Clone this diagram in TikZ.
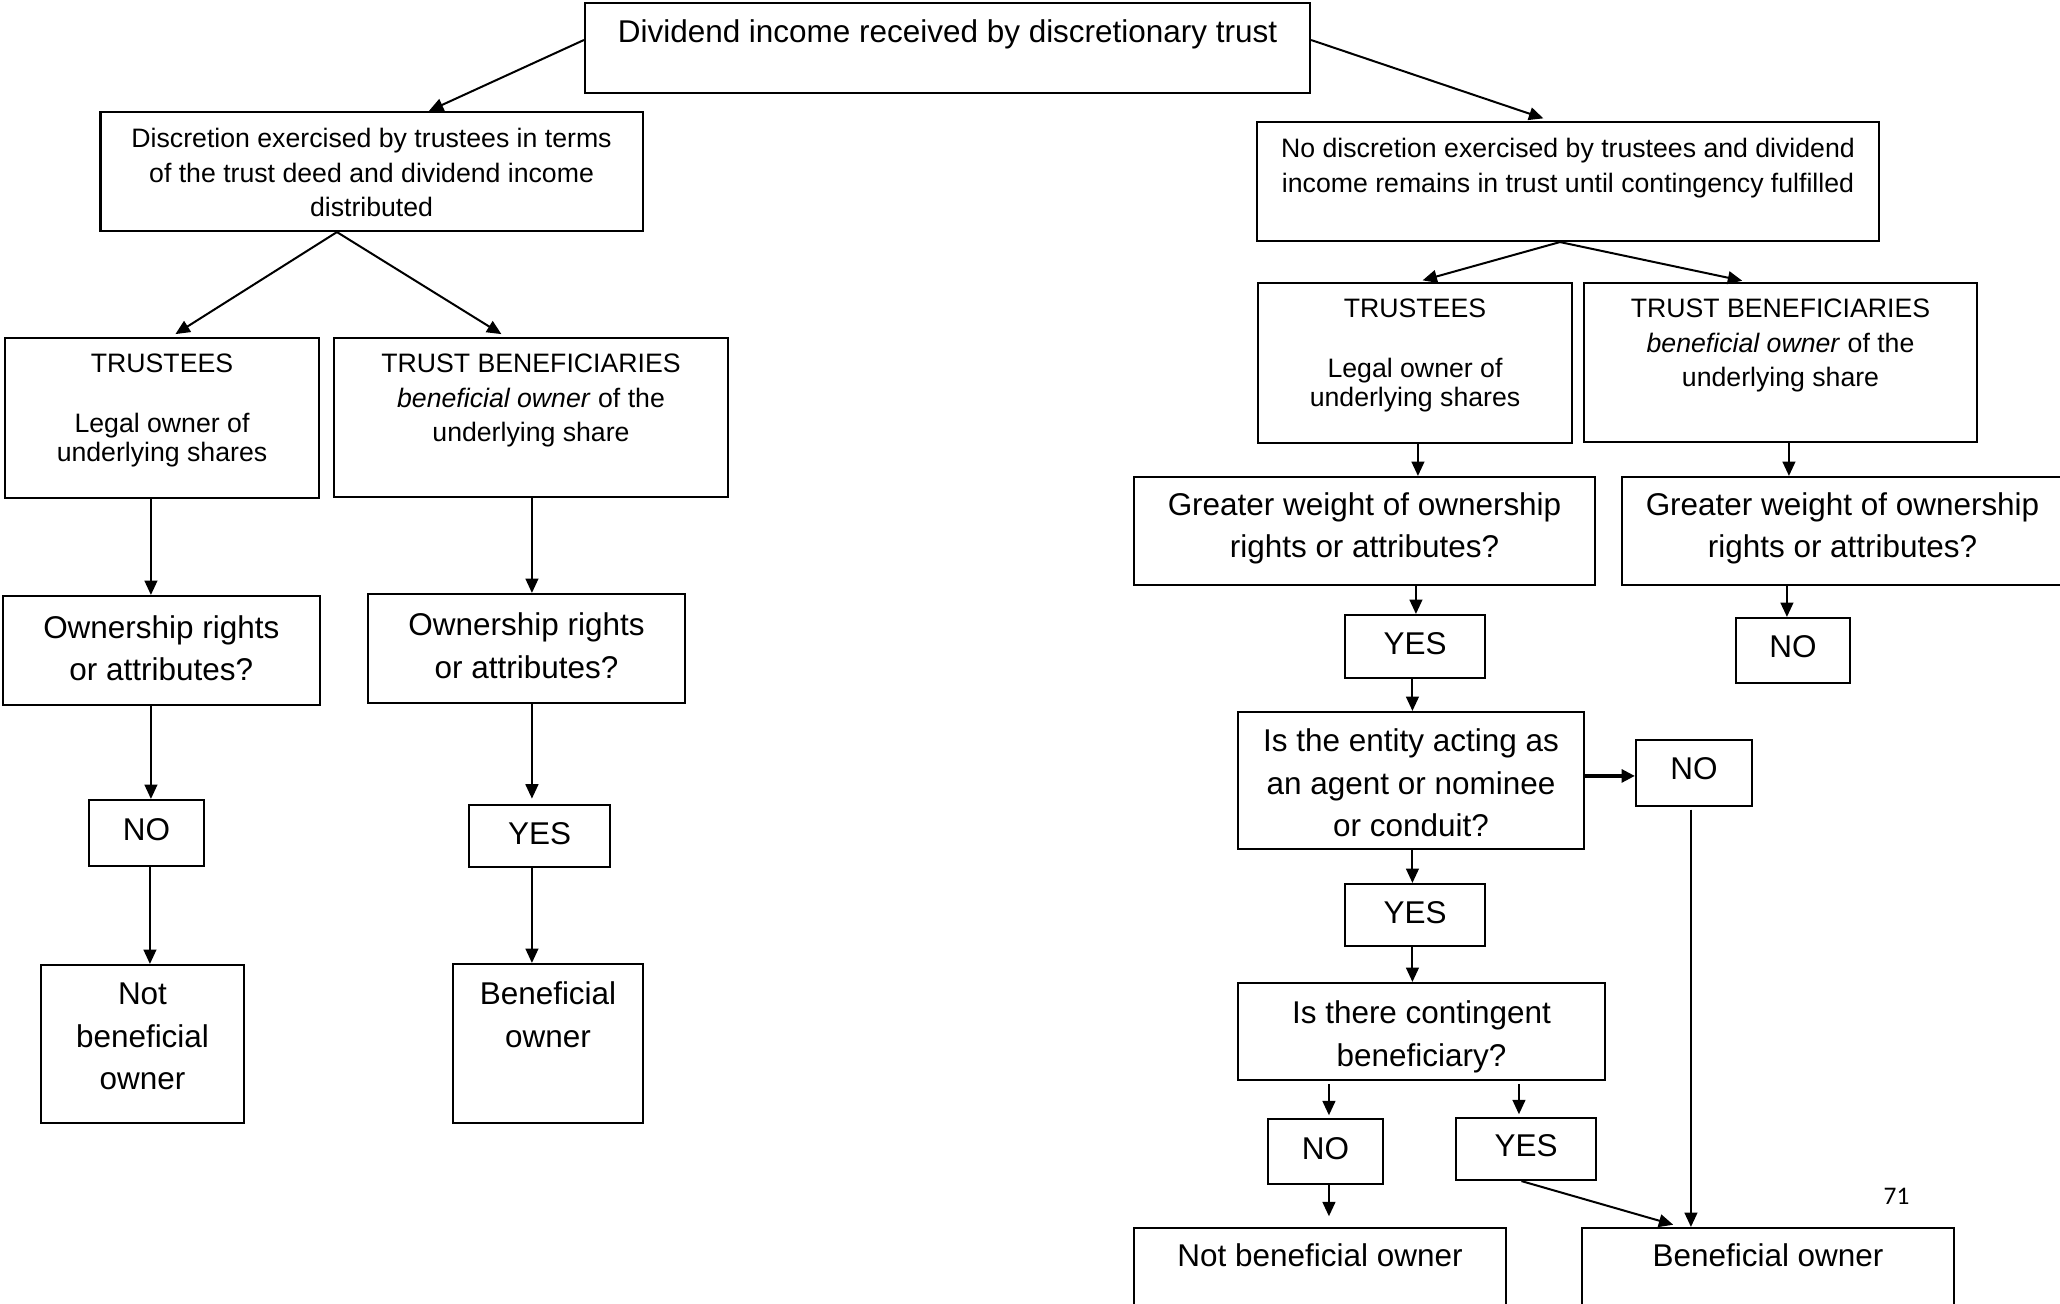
\documentclass[tikz,border=0pt]{standalone}
\usepackage{fontspec}
\setmainfont{Liberation Sans}
\newfontfamily\pagenumfont{Carlito}
\usetikzlibrary{arrows.meta,calc,fit}

\begin{document}
\begin{tikzpicture}[x=0.375pt,y=-0.375pt,
  box/.style={draw, line width=0.8pt, fill=white, inner sep=0pt},
  small/.style={font=\fontsize{10}{12.94}\selectfont, align=center, inner sep=0pt, anchor=base},
  tight/.style={font=\fontsize{10}{11.1}\selectfont, align=center, inner sep=0pt, anchor=base},
  large/.style={font=\fontsize{11.8}{15.86}\selectfont, align=center, inner sep=0pt, anchor=base},
  arr/.style={-{Triangle[length=5.4pt,width=4.8pt]}, line width=0.75pt},
  heavy/.style={-{Triangle[length=5pt,width=4.8pt]}, line width=1.5pt}]

% page area
\fill[white] (0,0) rectangle (2060,1303);
\useasboundingbox (0,0) rectangle (2060,1303);
\clip (0,0) rectangle (2060,1303);

% ---------- boxes ----------
\node[box, fit={(585,3) (1310,93)}] (top) {};
\node[box, fit={(100.5,112) (642.6,231)}] (disc) {};
\node[box, fit={(5,338) (319,498)}] (trL) {};
\node[box, fit={(334,338) (728,497)}] (tbL) {};
\node[box, fit={(2.6,596) (320,705)}] (ownL) {};
\node[box, fit={(368,594) (685,703)}] (ownR) {};
\node[box, fit={(89,800) (204,866)}] (noL) {};
\node[box, fit={(469,805) (610,867)}] (yesL) {};
\node[box, fit={(41,965) (244,1123)}] (notL) {};
\node[box, fit={(453,964) (643,1123)}] (benL) {};

\node[box, fit={(1257,122) (1879,241)}] (noDisc) {};
\node[box, fit={(1258,283) (1572,443)}] (trR) {};
\node[box, fit={(1584,283) (1977,442)}] (tbR) {};
\node[box, fit={(1134,477) (1595,585)}] (gwL) {};
\node[box, fit={(1622,477) (2063,585)}] (gwR) {};
\node[box, fit={(1345,615) (1485,678)}] (yesA) {};
\node[box, fit={(1736,618) (1850,683)}] (noA) {};
\node[box, fit={(1238,712) (1584,849)}] (agent) {};
\node[box, fit={(1636,740) (1752,806)}] (noB) {};
\node[box, fit={(1345,884) (1485,946)}] (yesB) {};
\node[box, fit={(1238,983) (1605,1080)}] (cont) {};
\node[box, fit={(1268,1119) (1383,1184)}] (noC) {};
\node[box, fit={(1456,1118) (1596,1180)}] (yesC) {};
\node[box, fit={(1134,1228) (1506,1345)}] (notR) {};
\node[box, fit={(1582,1228) (1954,1345)}] (benR) {};

% ---------- texts (placed by the baseline of their last line) ----------
\node[large] (topT) at ($(top.north)+(0,41)$) {Dividend income received by discretionary trust};
\node[small] (discT) at ($(disc.north)+(0,106)$) {Discretion exercised by trustees in terms\\of the trust deed and dividend income\\distributed};
\node[tight] (trLT) at ($(trL.north)+(0,124.8)$) {TRUSTEES\\[11.1pt]Legal owner of\\underlying shares};
\node[small] (tbLT) at ($(tbL.north)+(0,105)$) {TRUST BENEFICIARIES\\\textit{beneficial owner} of the\\underlying share};
\node[large] (ownLT) at ($(ownL.north)+(0,85.6)$) {Ownership rights\\or attributes?};
\node[large] (ownRT) at ($(ownR.north)+(0,85.3)$) {Ownership rights\\or attributes?};
\node[large] (noLT) at ($(noL.north)+(0,42)$) {NO};
\node[large] (yesLT) at ($(yesL.north)+(0,41)$) {YES};
\node[large] (notLT) at ($(notL.north)+(0,125.6)$) {Not\\beneficial\\owner};
\node[large] (benLT) at ($(benL.north)+(0,84.3)$) {Beneficial\\owner};

\node[small] (noDiscT) at ($(noDisc.north)+(0,71.5)$) {No discretion exercised by trustees and dividend\\income remains in trust until contingency fulfilled};
\node[tight] (trRT) at ($(trR.north)+(0,124.8)$) {TRUSTEES\\[11.1pt]Legal owner of\\underlying shares};
\node[small] (tbRT) at ($(tbR.north)+(0,105)$) {TRUST BENEFICIARIES\\\textit{beneficial owner} of the\\underlying share};
\node[large] (gwLT) at ($(gwL.north)+(0,82)$) {Greater weight of ownership\\rights or attributes?};
\node[large] (gwRT) at ($(gwR.north)+(0,82)$) {Greater weight of ownership\\rights or attributes?};
\node[large] (yesAT) at ($(yesA.north)+(0,41)$) {YES};
\node[large] (noAT) at ($(noA.north)+(0,41)$) {NO};
\node[large] (agentT) at ($(agent.north)+(0,125.6)$) {Is the entity acting as\\an agent or nominee\\or conduit?};
\node[large] (noBT) at ($(noB.north)+(0,41)$) {NO};
\node[large] (yesBT) at ($(yesB.north)+(0,41)$) {YES};
\node[large] (contT) at ($(cont.north)+(0,84.3)$) {Is there contingent\\beneficiary?};
\node[large] (noCT) at ($(noC.north)+(0,42)$) {NO};
\node[large] (yesCT) at ($(yesC.north)+(0,40)$) {YES};
\node[large] (notRT) at ($(notR.north)+(0,40)$) {Not beneficial owner};
\node[large] (benRT) at ($(benR.north)+(0,40)$) {Beneficial owner};

\node[anchor=base, inner sep=0pt, font=\pagenumfont\fontsize{9.5}{11}\selectfont] (pagenum) at (1896.5,1204) {71};

% ---------- connectors ----------
% first split
\draw[arr] ($(top.west)+(0,-8)$) -- ($(disc.north west)+(329.5,0)$);
\draw[arr, shorten >=3pt] ($(top.east)+(0,-8)$) -- ($(noDisc.north west)+(295,0)$);

% left branch
\coordinate (dL) at ($(disc.south west)+(237.5,0)$);
\draw[arr, shorten >=2pt] (dL) -- ($(trL.north west)+(167,0)$);
\draw[arr, shorten >=2pt] (dL) -- ($(tbL.north west)+(173,0)$);

\coordinate (p1) at ($(trL.south west)+(147,0)$);
\draw[arr] (p1) -- (p1 |- ownL.north);
\coordinate (p2) at ($(tbL.south west)+(199,0)$);
\draw[arr] (p2) -- (p2 |- ownR.north);
\coordinate (p3) at ($(ownL.south west)+(149.4,0)$);
\draw[arr] (p3) -- (p3 |- noL.north);
\coordinate (p4) at ($(ownR.south west)+(165,0)$);
\draw[arr, shorten >=2pt] (p4) -- (p4 |- yesL.north);
\coordinate (p5) at ($(noL.south west)+(62,0)$);
\draw[arr] (p5) -- (p5 |- notL.north);
\coordinate (p6) at ($(yesL.south west)+(64,0)$);
\draw[arr] (p6) -- (p6 |- benL.north);

% right branch
\coordinate (dR) at ($(noDisc.south west)+(304,0)$);
\draw[arr, shorten >=2.2pt] (dR) -- ($(trR.north west)+(160,0)$);
\draw[arr, shorten >=2.2pt] (dR) -- ($(tbR.north west)+(165,0)$);

\coordinate (q1) at ($(trR.south west)+(161,0)$);
\draw[arr] (q1) -- (q1 |- gwL.north);
\coordinate (q2) at ($(tbR.south west)+(206,0)$);
\draw[arr] (q2) -- (q2 |- gwR.north);
\coordinate (q3) at ($(gwL.south west)+(283,0)$);
\draw[arr] (q3) -- (q3 |- yesA.north);
\coordinate (q4) at ($(gwR.south west)+(166,0)$);
\draw[arr] (q4) -- (q4 |- noA.north);
\coordinate (q5) at ($(yesA.south west)+(68.5,0)$);
\draw[arr] (q5) -- (q5 |- agent.north);
\coordinate (q6) at ($(agent.north east)+(0,65)$);
\draw[heavy] (q6) -- (q6 -| noB.west);
\coordinate (q7) at ($(agent.south west)+(175.5,0)$);
\draw[arr] (q7) -- (q7 |- yesB.north);
\coordinate (q8) at ($(yesB.south west)+(68.5,0)$);
\draw[arr] (q8) -- (q8 |- cont.north);
\coordinate (q9) at ($(cont.south west)+(92,0)$);
\draw[arr, shorten <=1pt, shorten >=1pt] (q9) -- (q9 |- noC.north);
\coordinate (q10) at ($(cont.south west)+(282,0)$);
\draw[arr, shorten <=1pt, shorten >=1pt] (q10) -- (q10 |- yesC.north);
\coordinate (q11) at ($(noC.south west)+(62,0)$);
\draw[arr, shorten >=4pt] (q11) -- (q11 |- notR.north);
\draw[arr, shorten >=3pt] ($(yesC.south west)+(66.5,0)$) -- ($(benR.north west)+(100,0)$);
\coordinate (q12) at ($(noB.south west)+(56,0)$);
\draw[arr, shorten <=1pt] (q12) -- (q12 |- benR.north);

\end{tikzpicture}
\end{document}
